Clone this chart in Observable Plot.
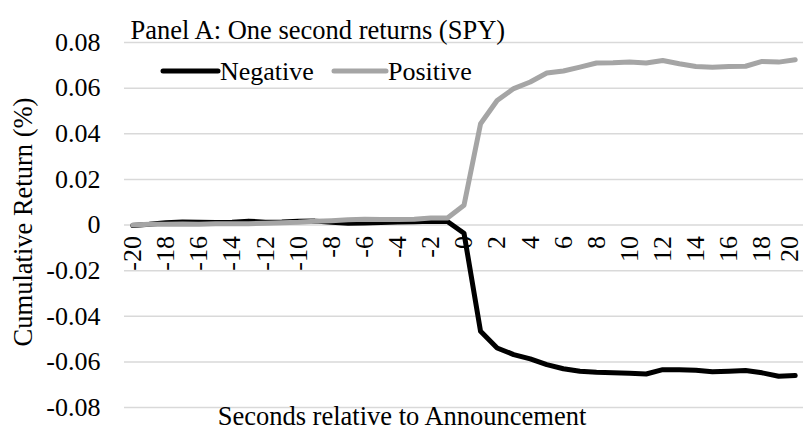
<!DOCTYPE html>
<html>
<head>
<meta charset="utf-8">
<script src="https://cdn.jsdelivr.net/npm/d3@7"></script>
<script src="https://cdn.jsdelivr.net/npm/@observablehq/plot@0.6"></script>
<style>
  html, body { margin: 0; padding: 0; background: #fff; }
  #chart { width: 803px; height: 440px; }
  #chart svg, #chart svg text, #chart svg g { font-family: "Liberation Serif", "Times New Roman", serif !important; }
</style>
</head>
<body>
<div id="chart"></div>
<script>
const seconds = d3.range(-20, 21);
const negative = [
  -0.0002, 0.0003, 0.0010, 0.0013, 0.0012, 0.0011, 0.0012, 0.0017, 0.0012, 0.0013,
  0.0016, 0.0017, 0.0012, 0.0008, 0.0009, 0.0011, 0.0013, 0.0014, 0.0016, 0.0015,
  -0.0036,
  -0.0466, -0.0539, -0.0568, -0.0587, -0.0612, -0.0630, -0.0641, -0.0646, -0.0648, -0.0650,
  -0.0653, -0.0634, -0.0635, -0.0637, -0.0643, -0.0641, -0.0638, -0.0648, -0.0663, -0.0660
];
const positive = [
  0.0000, 0.0003, 0.0003, 0.0004, 0.0003, 0.0005, 0.0006, 0.0006, 0.0008, 0.0010,
  0.0012, 0.0016, 0.0019, 0.0023, 0.0025, 0.0024, 0.0024, 0.0025, 0.0031, 0.0031,
  0.0087,
  0.0444, 0.0546, 0.0598, 0.0627, 0.0666, 0.0675, 0.0692, 0.0710, 0.0711, 0.0714,
  0.0710, 0.0721, 0.0707, 0.0695, 0.0692, 0.0695, 0.0696, 0.0717, 0.0714, 0.0724
];
const seriesNames = ["Negative", "Positive"];
const seriesColors = ["#000000", "#a5a5a5"];
const xTicks = d3.range(-20, 21, 2);
const yTicks = [-0.08, -0.06, -0.04, -0.02, 0, 0.02, 0.04, 0.06, 0.08];
const title = "Panel A: One second returns (SPY)";
const xTitle = "Seconds relative to Announcement";
const yTitle = "Cumulative Return (%)";

const rows = [];
seriesNames.forEach((name, k) => {
  const vals = k === 0 ? negative : positive;
  seconds.forEach((s, i) => rows.push({series: name, s, v: vals[i]}));
});

const W = 803, H = 440;
const mL = 124, mR = 0, mT = 42, mB = 33;
const font = "Liberation Serif, Times New Roman, serif";

const chart = Plot.plot({
  width: W,
  height: H,
  marginLeft: mL,
  marginRight: mR,
  marginTop: mT,
  marginBottom: mB,
  style: {fontFamily: font, fontSize: "26px", background: "#fff", color: "#000", overflow: "visible"},
  x: {domain: [-20.5, 20.5], axis: null},
  y: {domain: [-0.08, 0.08], axis: null},
  color: {domain: seriesNames, range: seriesColors},
  marks: [
    Plot.gridY(yTicks, {stroke: "#d9d9d9", strokeOpacity: 1, strokeWidth: 1.5}),
    Plot.axisY(yTicks, {
      tickSize: 0, tickPadding: 24, fontSize: 26,
      tickFormat: d => d === 0 ? "0" : d.toFixed(2), label: null
    }),
    Plot.lineY(rows, {
      x: "s", y: "v", z: "series", stroke: "series",
      strokeWidth: 5, strokeLinejoin: "round", strokeLinecap: "round", curve: "linear"
    }),
    Plot.text(xTicks.slice(0, -1), {
      x: d => d, y: d => 0, text: d => String(d),
      rotate: -90, textAnchor: "end", dy: 11, fontSize: 26, fill: "#000"
    }),
    Plot.text(xTicks.slice(-1), {
      x: d => d, y: d => 0, text: d => String(d),
      rotate: -90, textAnchor: "end", dx: -6, dy: 11, fontSize: 26, fill: "#000"
    }),
    Plot.text([title], {frameAnchor: "top-left", dx: 6, dy: -22.5, textAnchor: "start", fontSize: 26.5, fill: "#000"}),
    Plot.text([xTitle], {frameAnchor: "bottom", dx: (W / 2) - (mL + (W - mL - mR) / 2), dy: 17.5, textAnchor: "middle", fontSize: 26.5, fill: "#000"}),
    Plot.text([yTitle], {frameAnchor: "left", dx: -101, dy: -3, rotate: -90, textAnchor: "middle", fontSize: 26.5, fill: "#000"})
  ]
});

// legend
const svg = d3.select(chart);
const legendItems = [
  {name: seriesNames[0], color: seriesColors[0], x1: 163, x2: 218, tx: 220},
  {name: seriesNames[1], color: seriesColors[1], x1: 334, x2: 386, tx: 388}
];
const lg = svg.append("g").attr("font-size", 26).attr("text-anchor", "start");
legendItems.forEach(it => {
  lg.append("line").attr("x1", it.x1).attr("x2", it.x2).attr("y1", 71).attr("y2", 71)
    .attr("stroke", it.color).attr("stroke-width", 5).attr("stroke-linecap", "round");
  lg.append("text").attr("x", it.tx).attr("y", 79.5).attr("fill", "#000")
    .attr("text-anchor", "start").text(it.name);
});

document.getElementById("chart").appendChild(chart);
</script>
</body>
</html>
